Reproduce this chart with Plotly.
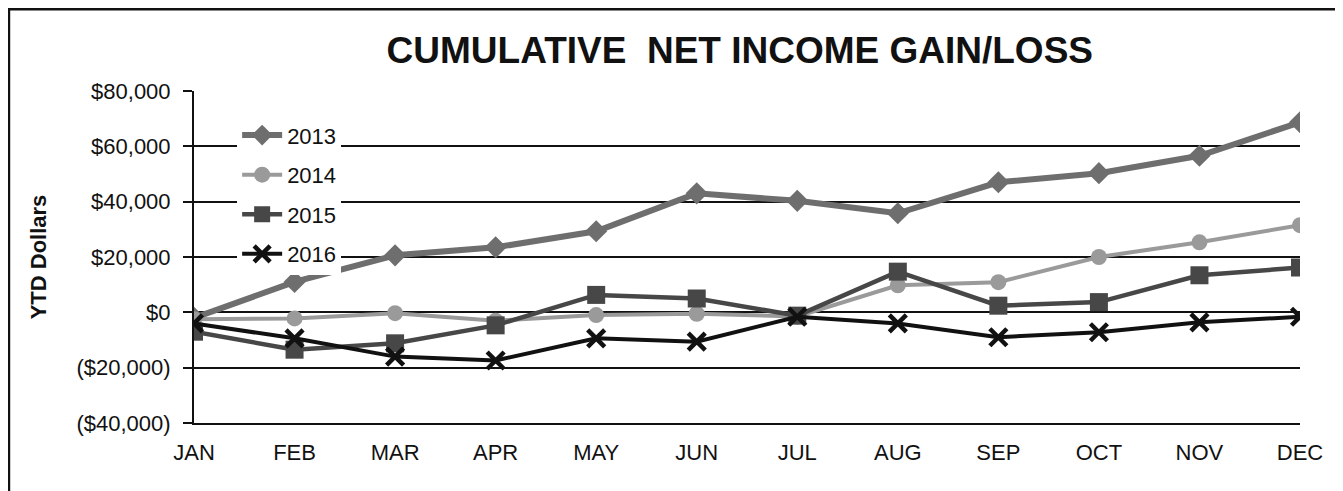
import plotly.graph_objects as go

months = ["JAN", "FEB", "MAR", "APR", "MAY", "JUN", "JUL", "AUG", "SEP", "OCT", "NOV", "DEC"]
y2013 = [-2000, 11000, 20600, 23500, 29300, 43000, 40300, 35800, 47000, 50300, 56600, 68700]
y2014 = [-2500, -2200, -300, -3000, -1000, -500, -1500, 9800, 10900, 20000, 25300, 31500]
y2015 = [-7000, -13500, -11200, -4700, 6300, 5000, -1200, 14700, 2400, 3700, 13400, 16200]
y2016 = [-4000, -9400, -16000, -17400, -9400, -10600, -1600, -4000, -9000, -7200, -3600, -1600]

tick_vals = [-40000, -20000, 0, 20000, 40000, 60000, 80000]
tick_text = ["($40,000)", "($20,000)", "$0", "$20,000", "$40,000", "$60,000", "$80,000"]

title_text = "CUMULATIVE\u00a0 NET INCOME GAIN/LOSS"
y_title = "YTD Dollars"

FONT = "Arial, Liberation Sans, sans-serif"

fig = go.Figure()
series = [
    ("2013", y2013, "#6e6e6e", 6, dict(symbol="diamond", size=17, color="#6e6e6e")),
    ("2014", y2014, "#9a9a9a", 4, dict(symbol="circle", size=16, color="#9a9a9a")),
    ("2015", y2015, "#474747", 4.5, dict(symbol="square", size=18, color="#474747")),
    ("2016", y2016, "#111111", 4, dict(symbol="x-thin", size=17, color="#111111",
                                       line=dict(width=4.5, color="#111111"))),
]
for name, vals, col, lw, mk in series:
    fig.add_trace(go.Scatter(
        x=months, y=vals, name=name, mode="lines+markers",
        line=dict(color=col, width=lw), marker=mk, legendgroup=name,
    ))

fig.update_layout(
    width=1335, height=483,
    margin=dict(l=186, r=43, t=83, b=68),
    paper_bgcolor="white", plot_bgcolor="white",
    font=dict(family=FONT, color="#111111", size=22),
    title=dict(text=title_text, x=0.4935, xref="paper", xanchor="center",
               y=0.913, yref="container", yanchor="middle",
               font=dict(size=37, family=FONT, color="#111111", weight="bold")),
    showlegend=True,
    legend=dict(x=0.039, y=0.93, xanchor="left", yanchor="top",
                bgcolor="white", font=dict(size=22, family=FONT),
                tracegroupgap=8, itemwidth=40),
    xaxis=dict(type="category", range=[0, 11], showgrid=False, ticks="",
               showline=True, linecolor="#111111", linewidth=2,
               ticklabelstandoff=9, tickfont=dict(size=22), zeroline=False),
    yaxis=dict(range=[-40000, 80000], tickvals=tick_vals, ticktext=tick_text,
               showgrid=True, gridcolor="#111111", gridwidth=2,
               showline=True, linecolor="#111111", linewidth=2,
               ticks="outside", ticklen=9, tickcolor="#111111", tickwidth=2,
               ticklabelstandoff=8, zeroline=False, tickfont=dict(size=22),
               title=dict(text=y_title, standoff=24,
                          font=dict(size=22, family=FONT, weight="bold"))),
)

fig.add_shape(type="rect", xref="paper", yref="paper",
              x0=-0.1673, x1=1.0377, y0=-0.25, y1=1.246,
              line=dict(color="#111111", width=2.5), fillcolor="rgba(0,0,0,0)", layer="above")

fig.write_html("out.html")
